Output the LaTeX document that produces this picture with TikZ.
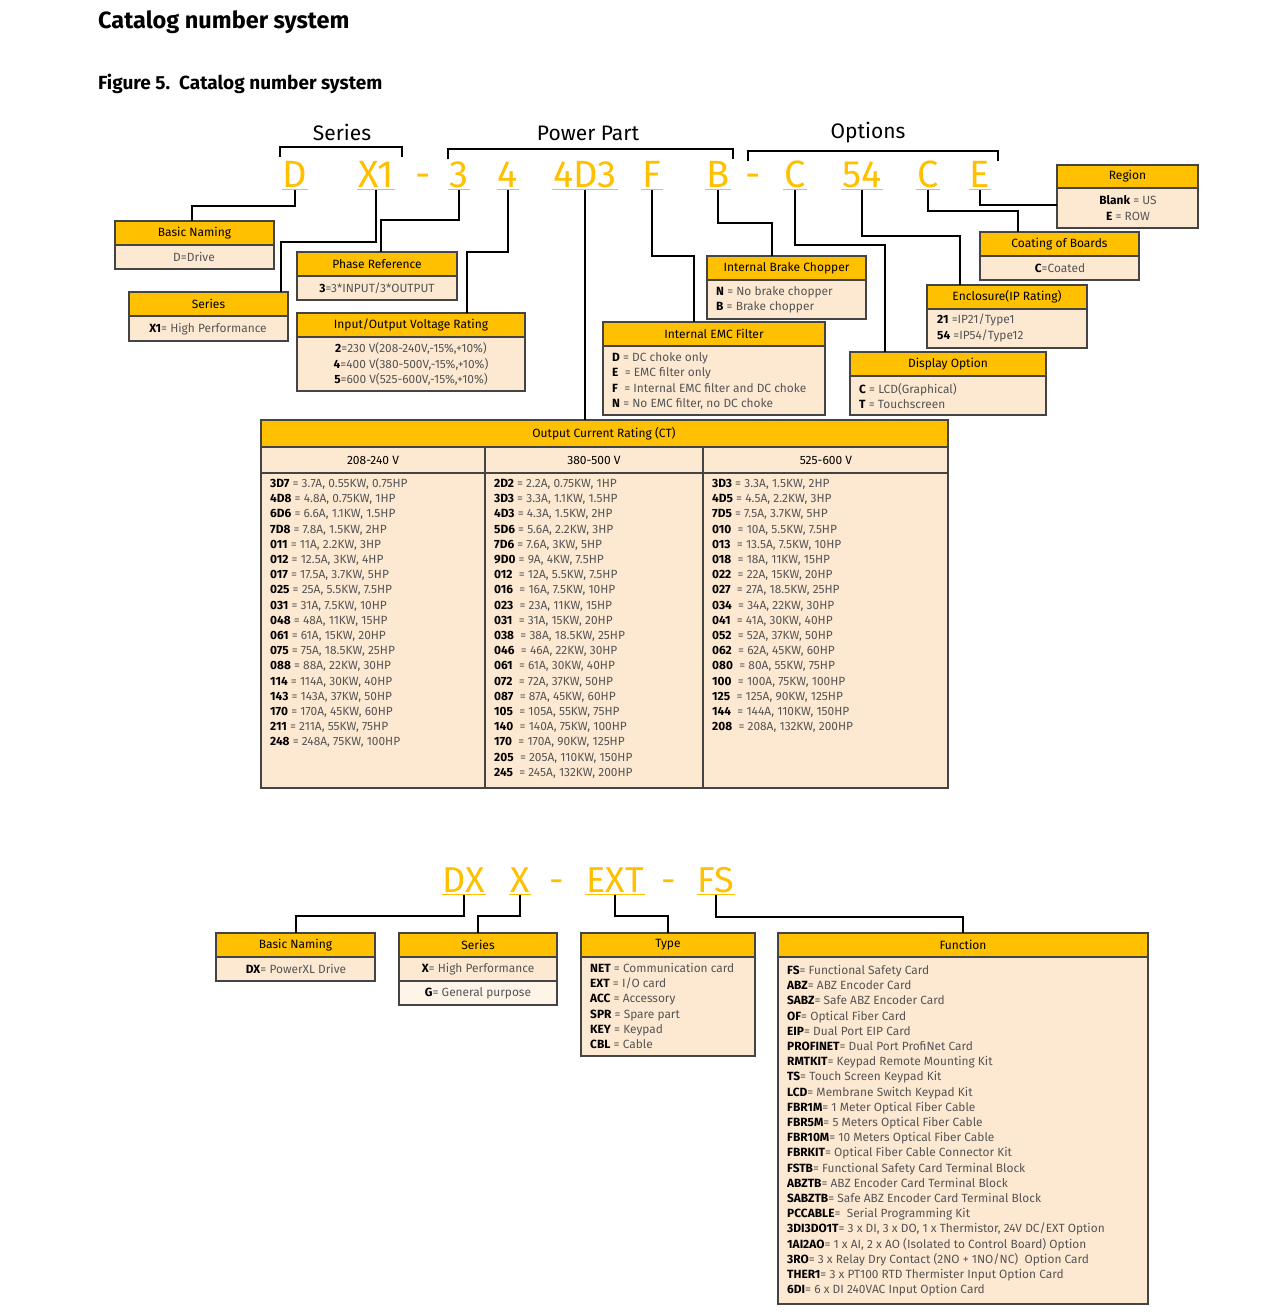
\documentclass[tikz,border=0pt]{standalone}
\usepackage{fontspec}
\setmainfont{Fira Sans}
\definecolor{hy}{HTML}{FFC000}
\definecolor{bd}{HTML}{FDE9D2}
\definecolor{bl}{HTML}{FEF4E8}
\definecolor{vg}{HTML}{555555}
\definecolor{bx}{HTML}{444444}
\newcommand\fs[2]{\fontsize{#1}{#2}\selectfont}
\newcommand\K[1]{\textcolor{black}{\textbf{#1}}}
\newcommand\catbox[7]{%
  \fill[bd] (#2,#3) rectangle (#4,#5);
  \fill[hy] (#2,#3) rectangle (#4,#6);
  \draw[bx,line width=1.4pt] (#2,#3) rectangle (#4,#5);
  \draw[bx,line width=1.2pt] (#2,#6) -- (#4,#6);
  \node[htext] (#1-h) at ({(#2+#4)/2},{(#3+#6)/2}) {#7};}
\tikzset{
  htext/.style={font=\fs{12}{13}, text=black, inner sep=0},
  vtext/.style={font=\fs{11.9}{15.2}, text=vg, inner sep=0, align=left},
  code/.style={font=\fs{38}{40}, text=hy, inner xsep=1pt, inner ysep=2pt, text height=27pt, text depth=0pt},
  bcode/.style={font=\fs{36}{40}, text=hy, inner xsep=1pt, inner ysep=2pt, text height=25pt, text depth=0pt},
  uline/.style={hy, line width=1.5pt},
  conn/.style={black, line width=1.8pt},
  brk/.style={black, line width=1.5pt},
}
\begin{document}
\begin{tikzpicture}[x=1pt,y=-1pt]
\useasboundingbox (0,0) rectangle (1280,1315);
\node[anchor=west,font=\fs{23.5}{26}\bfseries,inner sep=0] (title) at (98,22) {Catalog number system};
\node[anchor=west,font=\fs{19}{22}\bfseries,inner sep=0] (fig) at (98,84) {Figure 5.\ \ Catalog number system};
% brackets
\draw[brk] (280,157) -- (280,147) -- (402,147) -- (402,157);
\draw[brk] (448,159) -- (448,149) -- (733,149) -- (733,159);
\draw[brk] (748,161) -- (748,151) -- (998,151) -- (998,161);
\node[font=\fs{21}{22}] (lser) at (342,132) {Series};
\node[font=\fs{21}{22}] (lpow) at (588,133) {Power Part};
\node[font=\fs{21}{22}] (lopt) at (868,133) {Options};
% codes
\foreach \n/\x/\t in {cD/295/D, cX/376/X1, c3/459/3, c4/508/4, c4D/585/4D3, cF/652/F, cB/718/B, cC/795/C, c54/862/54, cC2/928/C, cE/980/E}{
  \node[code] (\n) at (\x,174) {\t};
  \draw[uline] (\n.south west) -- (\n.south east);}
\node[code] (dash1) at (423,174) {-};
\node[code] (dash2) at (753,174) {-};
% boxes top
\catbox{bn}{115}{221}{274}{269}{245}{Basic Naming}
\node[vtext] (bnv) at (194,257) {D=Drive};
\catbox{se}{129}{292}{288}{341}{316}{Series}
\node[vtext] (sev) at (208,329) {\K{X1}= High Performance};
\catbox{ph}{297}{252}{457}{300}{276}{Phase Reference}
\node[vtext] (phv) at (377,288) {\K{3}=3*INPUT/3*OUTPUT};
\catbox{io}{297}{313}{525}{391}{337}{Input/Output Voltage Rating}
\node[vtext,align=center] (iov) at (411,364) {\K{2}=230 V(208-240V,-15\%,+10\%)\\ \K{4}=400 V(380-500V,-15\%,+10\%)\\ \K{5}=600 V(525-600V,-15\%,+10\%)};
\catbox{br}{707}{256}{866}{319}{280}{Internal Brake Chopper}
\node[vtext,anchor=west] (brv) at (716,300) {\K{N} = No brake chopper\\ \K{B} = Brake chopper};
\catbox{emc}{603}{322}{825}{415}{346}{Internal EMC Filter}
\node[vtext,anchor=west] (emcv) at (612,381) {\K{D} = DC choke only\\ \K{E} \ = EMC filter only\\ \K{F} \ = Internal EMC filter and DC choke\\ \K{N} = No EMC filter, no DC choke};
\catbox{rg}{1057}{165}{1198}{228}{188}{Region}
\node[vtext,align=center] (rgv) at (1128,208) {\K{Blank} = US\\ \K{E} = ROW};
\catbox{co}{980}{232}{1139}{280}{256}{Coating of Boards}
\node[vtext] (cov) at (1060,268) {\K{C}=Coated};
\catbox{en}{927}{285}{1087}{348}{309}{Enclosure(IP Rating)}
\node[vtext,anchor=west] (env) at (937,328) {\K{21} =IP21/Type1\\ \K{54} =IP54/Type12};
\catbox{dp}{850}{352}{1046}{415}{376}{Display Option}
\node[vtext,anchor=west] (dpv) at (859,396) {\K{C} = LCD(Graphical)\\ \K{T} = Touchscreen};
% table
\fill[bd] (261,420) rectangle (948,788);
\fill[hy] (261,420) rectangle (948,447);
\draw[bx,line width=1.4pt] (261,420) rectangle (948,788);
\draw[bx,line width=1.2pt] (261,447) -- (948,447);
\draw[bx,line width=1.2pt] (261,473) -- (948,473);
\draw[bx,line width=1.2pt] (485,447) -- (485,788);
\draw[bx,line width=1.2pt] (703,447) -- (703,788);
\node[htext] (oc-h) at (604,434) {Output Current Rating (CT)};
\node[htext] (t1) at (373,460) {208-240 V};
\node[htext] (t2) at (594,460) {380-500 V};
\node[htext] (t3) at (826,460) {525-600 V};
\node[vtext,anchor=north west] (col1) at (270,479) {\K{3D7} = 3.7A, 0.55KW, 0.75HP\\ \K{4D8} = 4.8A, 0.75KW, 1HP\\ \K{6D6} = 6.6A, 1.1KW, 1.5HP\\ \K{7D8} = 7.8A, 1.5KW, 2HP\\ \K{011} = 11A, 2.2KW, 3HP\\ \K{012} = 12.5A, 3KW, 4HP\\ \K{017} = 17.5A, 3.7KW, 5HP\\ \K{025} = 25A, 5.5KW, 7.5HP\\ \K{031} = 31A, 7.5KW, 10HP\\ \K{048} = 48A, 11KW, 15HP\\ \K{061} = 61A, 15KW, 20HP\\ \K{075} = 75A, 18.5KW, 25HP\\ \K{088} = 88A, 22KW, 30HP\\ \K{114} = 114A, 30KW, 40HP\\ \K{143} = 143A, 37KW, 50HP\\ \K{170} = 170A, 45KW, 60HP\\ \K{211} = 211A, 55KW, 75HP\\ \K{248} = 248A, 75KW, 100HP};
\node[vtext,anchor=north west] (col2) at (494,479) {\K{2D2} = 2.2A, 0.75KW, 1HP\\ \K{3D3} = 3.3A, 1.1KW, 1.5HP\\ \K{4D3} = 4.3A, 1.5KW, 2HP\\ \K{5D6} = 5.6A, 2.2KW, 3HP\\ \K{7D6} = 7.6A, 3KW, 5HP\\ \K{9D0} = 9A, 4KW, 7.5HP\\ \K{012} \ = 12A, 5.5KW, 7.5HP\\ \K{016} \ = 16A, 7.5KW, 10HP\\ \K{023} \ = 23A, 11KW, 15HP\\ \K{031} \ = 31A, 15KW, 20HP\\ \K{038} \ = 38A, 18.5KW, 25HP\\ \K{046} \ = 46A, 22KW, 30HP\\ \K{061} \ = 61A, 30KW, 40HP\\ \K{072} \ = 72A, 37KW, 50HP\\ \K{087} \ = 87A, 45KW, 60HP\\ \K{105} \ = 105A, 55KW, 75HP\\ \K{140} \ = 140A, 75KW, 100HP\\ \K{170} \ = 170A, 90KW, 125HP\\ \K{205} \ = 205A, 110KW, 150HP\\ \K{245} \ = 245A, 132KW, 200HP};
\node[vtext,anchor=north west] (col3) at (712,479) {\K{3D3} = 3.3A, 1.5KW, 2HP\\ \K{4D5} = 4.5A, 2.2KW, 3HP\\ \K{7D5} = 7.5A, 3.7KW, 5HP\\ \K{010} \ = 10A, 5.5KW, 7.5HP\\ \K{013} \ = 13.5A, 7.5KW, 10HP\\ \K{018} \ = 18A, 11KW, 15HP\\ \K{022} \ = 22A, 15KW, 20HP\\ \K{027} \ = 27A, 18.5KW, 25HP\\ \K{034} \ = 34A, 22KW, 30HP\\ \K{041} \ = 41A, 30KW, 40HP\\ \K{052} \ = 52A, 37KW, 50HP\\ \K{062} \ = 62A, 45KW, 60HP\\ \K{080} \ = 80A, 55KW, 75HP\\ \K{100} \ = 100A, 75KW, 100HP\\ \K{125} \ = 125A, 90KW, 125HP\\ \K{144} \ = 144A, 110KW, 150HP\\ \K{208} \ = 208A, 132KW, 200HP};
% connectors top
\coordinate (tbl) at (585,420);
\draw[conn] (cD.south) |- (192,206) -- (192,221);
\draw[conn] (cX.south) |- (281,242) -- (281,292);
\draw[conn] (c3.south) |- (381,220) -- (381,252);
\draw[conn] (c4.south) |- (467,252) -- (467,313);
\draw[conn] (c4D.south) -- (tbl);
\draw[conn] (cF.south) |- (694,256) -- (694,322);
\draw[conn] (cB.south) |- (772,223) -- (772,256);
\draw[conn] (cC.south) |- (885,245) -- (885,352);
\draw[conn] (c54.south) |- (960,236) -- (960,285);
\draw[conn] (cC2.south) |- (1018,211) -- (1018,232);
\draw[conn] (cE.south) |- (1057,205);
% bottom codes
\foreach \n/\x/\t in {dDX/464/DX, dX/520/X, dEXT/615/EXT, dFS/716/FS}{
  \node[bcode] (\n) at (\x,880) {\t};
  \draw[uline] (\n.south west) -- (\n.south east);}
\node[bcode] (dash3) at (557,880) {-};
\node[bcode] (dash4) at (669,880) {-};
\catbox{bbn}{216}{933}{375}{981}{957}{Basic Naming}
\node[vtext] (bbnv) at (296,969) {\K{DX}= PowerXL Drive};
\catbox{bse}{399}{933}{557}{1005}{957}{Series}
\fill[bl] (400,982) rectangle (556,1004);
\draw[bx,line width=1.2pt] (399,981) -- (557,981);
\node[vtext] (bsev) at (478,969) {\K{X}= High Performance};
\node[vtext] (bsev2) at (478,993) {\K{G}= General purpose};
\catbox{bty}{581}{933}{755}{1056}{957}{Type}
\node[vtext,anchor=north west] (btyv) at (590,963) {\K{NET} = Communication card\\ \K{EXT} = I/O card\\ \K{ACC} = Accessory\\ \K{SPR} = Spare part\\ \K{KEY} = Keypad\\ \K{CBL} = Cable};
\catbox{bfn}{778}{933}{1148}{1304}{957}{Function}
\node[vtext,anchor=north west] (bfnv) at (787,965) {\K{FS}= Functional Safety Card\\ \K{ABZ}= ABZ Encoder Card\\ \K{SABZ}= Safe ABZ Encoder Card\\ \K{OF}= Optical Fiber Card\\ \K{EIP}= Dual Port EIP Card\\ \K{PROFINET}= Dual Port ProfiNet Card\\ \K{RMTKIT}= Keypad Remote Mounting Kit\\ \K{TS}= Touch Screen Keypad Kit\\ \K{LCD}= Membrane Switch Keypad Kit\\ \K{FBR1M}= 1 Meter Optical Fiber Cable\\ \K{FBR5M}= 5 Meters Optical Fiber Cable\\ \K{FBR10M}= 10 Meters Optical Fiber Cable\\ \K{FBRKIT}= Optical Fiber Cable Connector Kit\\ \K{FSTB}= Functional Safety Card Terminal Block\\ \K{ABZTB}= ABZ Encoder Card Terminal Block\\ \K{SABZTB}= Safe ABZ Encoder Card Terminal Block\\ \K{PCCABLE}= \ Serial Programming Kit\\ \K{3DI3DO1T}= 3 x DI, 3 x DO, 1 x Thermistor, 24V DC/EXT Option\\ \K{1AI2AO}= 1 x AI, 2 x AO (Isolated to Control Board) Option\\ \K{3RO}= 3 x Relay Dry Contact (2NO + 1NO/NC) \ Option Card\\ \K{THER1}= 3 x PT100 RTD Thermister Input Option Card\\ \K{6DI}= 6 x DI 240VAC Input Option Card};
\draw[conn] (dDX.south) |- (296,916) -- (296,933);
\draw[conn] (dX.south) |- (478,916) -- (478,933);
\draw[conn] (dEXT.south) |- (668,916) -- (668,933);
\draw[conn] (dFS.south) |- (963,917) -- (963,933);
\end{tikzpicture}
\end{document}
